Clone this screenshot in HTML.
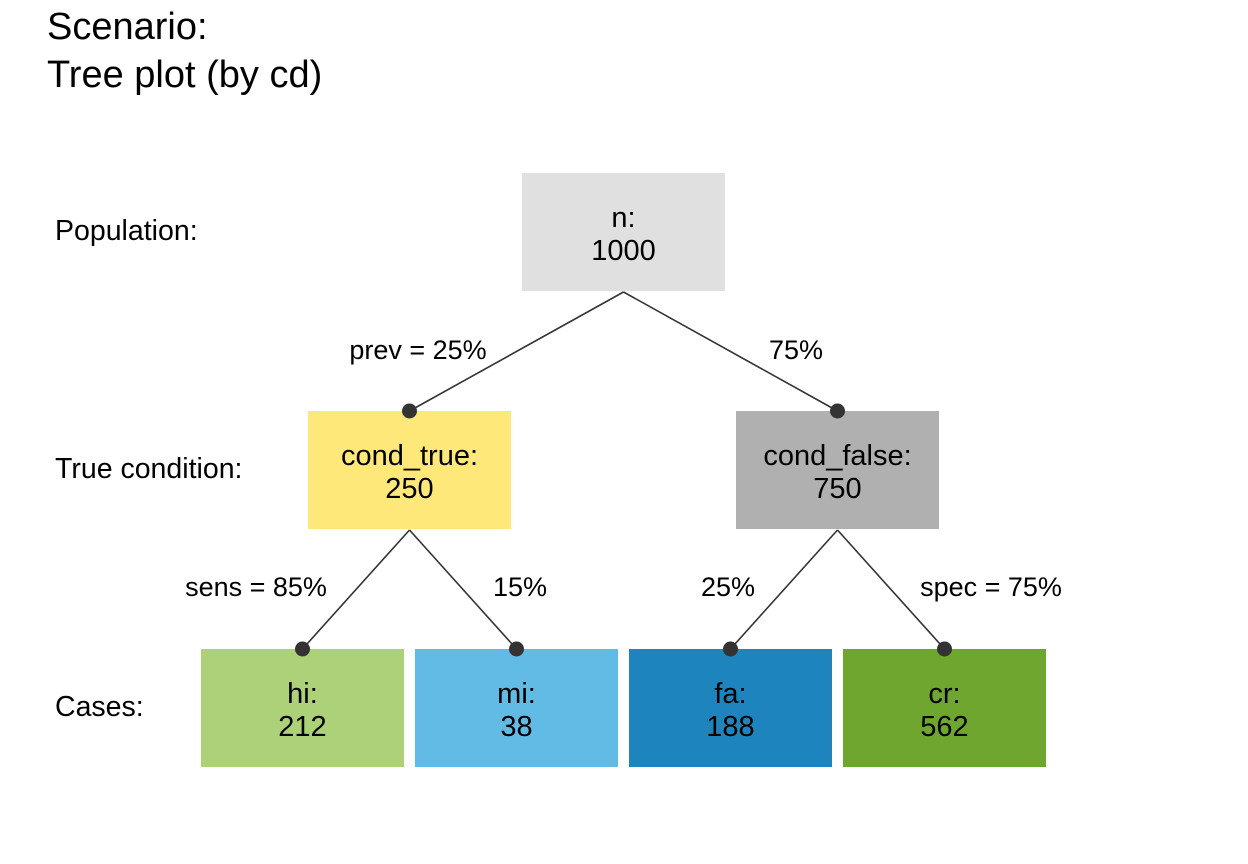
<!DOCTYPE html>
<html><head><meta charset="utf-8"><style>
html,body{margin:0;padding:0;background:#fff;}
svg{display:block;font-family:"Liberation Sans",sans-serif;}
</style></head><body>
<svg id="chart" width="1248" height="864" viewBox="0 0 1248 864">
<text x="47" y="39" font-size="38" fill="#000">Scenario:</text>
<text x="47" y="87" font-size="38" fill="#000">Tree plot (by cd)</text>
</svg>
<script>
const nodeNames = ["n", "cond_true", "cond_false", "hi", "mi", "fa", "cr"];
const nodeValues = [1000, 250, 750, 212, 38, 188, 562];
const branchLabels = ["prev = 25%", "75%", "sens = 85%", "15%", "25%", "spec = 75%"];
const rowLabels = ["Population:", "True condition:", "Cases:"];

const svg = document.getElementById('chart');
const NS = 'http://www.w3.org/2000/svg';
const colors = ["#e0e0e0", "#ffe87a", "#b0b0b0", "#acd178", "#62bbe5", "#1e84bd", "#6fa62f"];
const boxW = 203, boxH = 118;
const rowTop = [173, 411, 649];
const centers = [623.5, 409.5, 837.5, 302.5, 516.5, 730.5, 944.5];
const level = [0, 1, 1, 2, 2, 2, 2];
const parent = [-1, 0, 0, 1, 1, 2, 2];
const labelPos = [[418, 359, 'middle'], [796, 359, 'middle'], [256, 596, 'middle'], [520, 596, 'middle'], [728, 596, 'middle'], [991, 596, 'middle']];

function mk(tag, attrs, text) {
  const e = document.createElementNS(NS, tag);
  for (const k in attrs) e.setAttribute(k, attrs[k]);
  if (text !== undefined) e.textContent = text;
  svg.appendChild(e);
  return e;
}

rowLabels.forEach((t, i) => {
  const e = mk('text', {x: 55, y: rowTop[i] + 67, 'font-size': 28.5, fill: '#000'}, t);
  
  
});

nodeNames.forEach((nm, i) => {
  const x = centers[i] - boxW / 2, y = rowTop[level[i]];
  const r = mk('rect', {x: x, y: y, width: boxW, height: boxH, fill: colors[i]});
  
  
  const t1 = mk('text', {x: centers[i], y: y + 54, 'font-size': 29, 'text-anchor': 'middle', fill: '#000'}, nm + ':');
  
  
  const t2 = mk('text', {x: centers[i], y: y + 87, 'font-size': 29, 'text-anchor': 'middle', fill: '#000'}, String(nodeValues[i]));
  
  
});

for (let i = 1; i < nodeNames.length; i++) {
  const p = parent[i];
  const x1 = centers[p], y1 = rowTop[level[p]] + boxH + 1;
  const x2 = centers[i], y2 = rowTop[level[i]];
  const l = mk('line', {x1: x1, y1: y1, x2: x2, y2: y2, stroke: '#333', 'stroke-width': 1.6});
  
  
  const c = mk('circle', {cx: x2, cy: y2, r: 7.5, fill: '#333'});
  
  
  const lp = labelPos[i - 1];
  const t = mk('text', {x: lp[0], y: lp[1], 'font-size': 27, 'text-anchor': lp[2], fill: '#000'}, branchLabels[i - 1]);
  
  
}
</script>
</body></html>
